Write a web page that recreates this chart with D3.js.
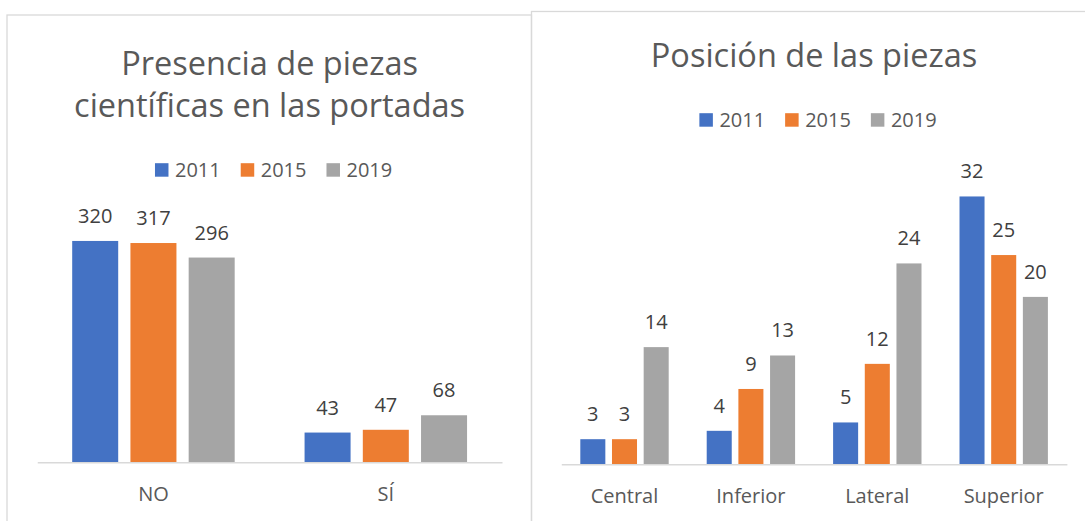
<!DOCTYPE html>
<html>
<head>
<meta charset="utf-8">
<script src="https://cdn.jsdelivr.net/npm/d3@7"></script>
<style>
    body { margin: 0; background: #fff; }
    svg { display: block; font-family: "Open Sans", sans-serif; }
</style>
</head>
<body>
<div id="vis"></div>
<script>
const width = 1085;
const height = 521;

const years = ["2011", "2015", "2019"];
const yearColors = ["#4472C4", "#ED7D31", "#A5A5A5"];

const presenciaCats = ["NO", "SÍ"];
const presencia2011 = [320, 43];
const presencia2015 = [317, 47];
const presencia2019 = [296, 68];

const posicionCats = ["Central", "Inferior", "Lateral", "Superior"];
const posicion2011 = [3, 4, 5, 32];
const posicion2015 = [3, 9, 12, 25];
const posicion2019 = [14, 13, 24, 20];

const textColor = "#595959";
const lineColor = "#D9D9D9";

const svg = d3.select("#vis").append("svg")
    .attr("width", width)
    .attr("height", height);

function drawPanel(p) {
    const g = svg.append("g");

    // chart area border
    g.append("rect")
        .attr("x", p.box[0])
        .attr("y", p.box[1])
        .attr("width", p.box[2])
        .attr("height", p.box[3])
        .attr("fill", "none")
        .attr("stroke", lineColor)
        .attr("stroke-width", 1.3);

    // title
    p.title.forEach((t, i) => {
        g.append("text")
            .attr("x", p.cx)
            .attr("y", p.titleY[i])
            .attr("text-anchor", "middle")
            .attr("fill", textColor)
            .style("font-size", "32.5px")
            .text(t);
    });

    // legend
    const leg = g.append("g");
    let pos = 0;
    years.forEach((yr, i) => {
        leg.append("rect")
            .attr("x", pos)
            .attr("y", p.legendY - 13.5)
            .attr("width", 13.5)
            .attr("height", 13.5)
            .attr("fill", yearColors[i]);
        const t = leg.append("text")
            .attr("x", pos + 20)
            .attr("y", p.legendY)
            .attr("fill", textColor)
            .style("font-size", "20px")
            .text(yr);
        pos += 20 + t.node().getComputedTextLength() + 20;
    });
    const legW = pos - 20;
    leg.attr("transform", `translate(${p.cx + 4 - legW / 2},0)`);

    const x0 = d3.scaleBand()
        .domain(p.cats)
        .range(p.xRange);

    const x1 = d3.scaleBand()
        .domain(years)
        .range([0, x0.bandwidth()])
        .paddingInner(0.21)
        .paddingOuter(0.6);

    const y = d3.scaleLinear()
        .domain([0, p.yMax])
        .range([p.axisY, p.yTop]);

    const rows = p.cats.map((c, i) => ({
        cat: c,
        vals: years.map((yr, j) => ({ year: yr, color: yearColors[j], value: p.series[j][i] }))
    }));

    const groups = g.selectAll(".grp")
        .data(rows)
        .enter().append("g")
        .attr("class", "grp")
        .attr("transform", d => `translate(${x0(d.cat)},0)`);

    groups.selectAll("rect")
        .data(d => d.vals)
        .enter().append("rect")
        .attr("x", d => x1(d.year))
        .attr("y", d => y(d.value))
        .attr("width", x1.bandwidth())
        .attr("height", d => y(0) - y(d.value))
        .attr("fill", d => d.color);

    groups.selectAll("text.val")
        .data(d => d.vals)
        .enter().append("text")
        .attr("class", "val")
        .attr("x", d => x1(d.year) + x1.bandwidth() / 2)
        .attr("y", d => y(d.value) - 18)
        .attr("text-anchor", "middle")
        .attr("fill", "#404040")
        .style("font-size", "20px")
        .text(d => d.value);

    const axis = g.append("g")
        .attr("transform", `translate(0,${p.axisY})`)
        .call(d3.axisBottom(x0).tickSize(0).tickSizeOuter(0));

    axis.select(".domain")
        .attr("stroke", lineColor)
        .attr("stroke-width", 1.6);

    axis.selectAll(".tick text")
        .attr("y", 39)
        .attr("dy", 0)
        .attr("fill", textColor)
        .style("font-family", "'Open Sans', sans-serif")
        .style("font-size", "20px");
}

drawPanel({
    box: [7, 15, 524.5, 530],
    cx: 269.6,
    title: ["Presencia de piezas", "científicas en las portadas"],
    titleY: [74.5, 117],
    legendY: 176.7,
    cats: presenciaCats,
    series: [presencia2011, presencia2015, presencia2019],
    xRange: [37.25, 502],
    yMax: 350,
    axisY: 462.3,
    yTop: 220.2
});

drawPanel({
    box: [531.5, 11.5, 580, 530],
    cx: 814,
    title: ["Posición de las piezas"],
    titleY: [66.7],
    legendY: 126.7,
    cats: posicionCats,
    series: [posicion2011, posicion2015, posicion2019],
    xRange: [561.3, 1066.9],
    yMax: 35,
    axisY: 464.3,
    yTop: 171.35
});
</script>
</body>
</html>
